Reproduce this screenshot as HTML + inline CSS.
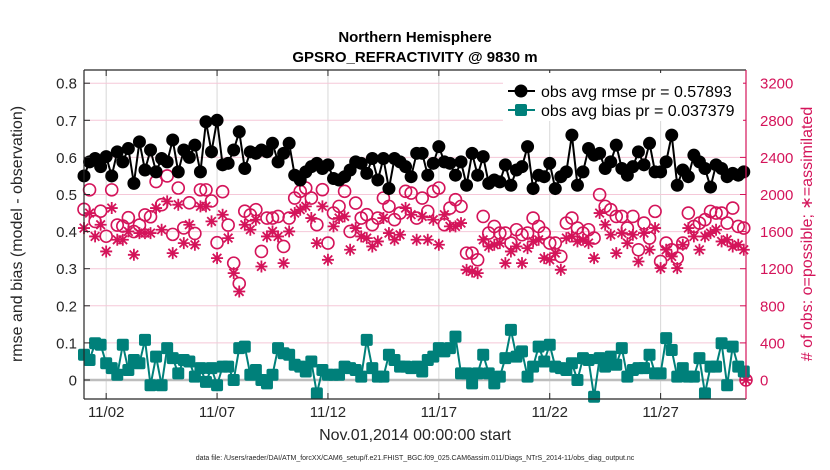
<!DOCTYPE html>
<html><head><meta charset="utf-8">
<style>
html,body{margin:0;padding:0;background:#fff;}
svg{display:block;font-family:"Liberation Sans",Arial,sans-serif;}
</style></head>
<body>
<svg id="chart" width="830" height="470" viewBox="0 0 830 470" xmlns="http://www.w3.org/2000/svg">
<g id="grid"></g>
<g id="zero"></g>
<g id="marks"></g>
<g id="axes"></g>
<text x="415" y="42" text-anchor="middle" font-size="15" font-weight="bold">Northern Hemisphere</text>
<text x="415" y="62" text-anchor="middle" font-size="15" font-weight="bold">GPSRO_REFRACTIVITY @ 9830 m</text>
<text transform="translate(22,234) rotate(-90)" text-anchor="middle" font-size="16" fill="#262626">rmse and bias (model - observation)</text>
<text transform="translate(812,234) rotate(-90)" text-anchor="middle" font-size="16" fill="#d4145a"># of obs: o=possible; ∗=assimilated</text>
<text x="415" y="440" text-anchor="middle" font-size="16" fill="#262626">Nov.01,2014 00:00:00 start</text>
<text x="415" y="460" text-anchor="middle" font-size="7" fill="#262626">data file: /Users/raeder/DAI/ATM_forcXX/CAM6_setup/f.e21.FHIST_BGC.f09_025.CAM6assim.011/Diags_NTrS_2014-11/obs_diag_output.nc</text>
<g id="legend">
  <rect x="503" y="73" width="240" height="48" fill="#fff"/>
  <line x1="508" y1="91" x2="535" y2="91" stroke="#000" stroke-width="2"/>
  <circle cx="521" cy="91" r="6.5" fill="#000"/>
  <text x="541" y="97" font-size="16" fill="#000">obs avg rmse pr = 0.57893</text>
  <line x1="508" y1="110" x2="535" y2="110" stroke="#00807a" stroke-width="2"/>
  <rect x="515" y="104" width="12" height="12" rx="2" fill="#00807a"/>
  <text x="541" y="116" font-size="16" fill="#000">obs avg bias pr = 0.037379</text>
</g>
</svg>
<script>
const rmse = [0.55,0.588,0.597,0.575,0.602,0.55,0.615,0.588,0.624,0.53,0.642,0.566,0.62,0.561,0.597,0.588,0.647,0.561,0.62,0.6,0.633,0.561,0.696,0.615,0.70,0.58,0.584,0.62,0.669,0.57,0.615,
0.611,0.62,0.615,0.638,0.588,0.611,0.638,0.552,0.539,0.561,0.575,0.584,0.57,0.58,0.543,0.539,0.548,0.566,0.588,0.584,0.557,0.597,0.539,0.597,0.516,0.597,0.588,0.575,0.548,0.611,
0.611,0.552,0.584,0.629,0.588,0.584,0.552,0.588,0.525,0.611,0.552,0.602,0.53,0.539,0.534,0.58,0.525,0.566,0.575,0.629,0.516,0.552,0.548,0.584,0.516,0.548,0.561,0.66,0.525,0.561,
0.624,0.606,0.611,0.57,0.588,0.633,0.57,0.552,0.575,0.615,0.58,0.638,0.561,0.561,0.588,0.66,0.525,0.566,0.548,0.606,0.588,0.57,0.52,0.58,0.57,0.548,0.557,0.552,0.561];
const bias = [0.068,0.054,0.099,0.095,0.045,0.032,0.014,0.095,0.027,0.054,0.045,0.108,-0.014,0.063,-0.014,0.086,0.059,0.018,0.054,0.05,0.009,0.032,-0.005,0.032,-0.014,0.036,0.036,0.0,0.086,0.09,0.014,
0.027,0.0,-0.009,0.014,0.086,0.072,0.068,0.041,0.036,0.023,0.05,-0.036,0.027,0.014,0.014,0.014,0.036,0.032,0.027,0.009,0.108,0.032,0.009,0.009,0.068,0.054,0.036,0.036,0.032,0.036,
0.023,0.054,0.063,0.086,0.077,0.086,0.117,0.018,0.018,-0.009,0.018,0.068,0.018,-0.009,0.009,0.059,0.135,0.063,0.077,0.009,0.036,0.09,0.05,0.095,0.036,0.032,0.027,0.045,0.0,0.059,
0.054,-0.045,0.059,0.036,0.063,0.041,0.086,0.009,0.027,0.032,0.032,0.068,0.018,0.018,0.113,0.081,0.009,0.032,0.009,0.009,0.059,-0.036,0.036,0.036,0.099,-0.014,0.09,0.036,0.023];
const nPossible = [1840,2050,1710,1820,1550,2050,1670,1660,1750,1600,1670,1780,1760,2140,1890,2200,1570,2070,1640,1910,1580,2050,2050,1930,1480,2030,1670,1260,1040,1820,1780,
1836,1386,1746,1746,1764,1440,1746,1962,2034,2070,1962,1674,2052,1476,1800,1872,2034,1602,1908,1746,1782,1674,1746,1962,1872,1728,1800,2034,2016,1746,
1962,1818,2034,2070,1674,1854,1944,1872,1368,1368,1296,1764,1584,1656,1584,1584,1476,1620,1566,1584,1746,1656,1584,1476,1476,1332,1692,1746,1638,1584,
1620,1530,1998,1872,1836,1764,1764,1638,1764,1404,1692,1530,1818,1278,1476,1404,1314,1476,1800,1656,1692,1728,1818,1800,1800,1692,1854,1656,1638,0];
const nAssim = [1638,1800,1548,1674,1386,1854,1512,1512,1602,1350,1584,1584,1584,1854,1620,1926,1368,1890,1476,1674,1458,1872,1872,1710,1314,1782,1530,1152,954,1674,1620,
1728,1224,1548,1602,1548,1260,1602,1800,1836,1872,1746,1476,1872,1296,1656,1746,1764,1404,1638,1548,1530,1440,1494,1746,1584,1512,1566,1854,1782,1512,
1764,1512,1728,1458,1782,1656,1656,1692,1188,1170,1152,1512,1440,1458,1476,1260,1386,1440,1260,1422,1494,1512,1314,1296,1368,1188,1530,1548,1494,1512,
1476,1314,1800,1674,1566,1368,1584,1476,1566,1278,1584,1404,1638,1206,1404,1332,1206,1458,1638,1548,1404,1548,1584,1620,1494,1512,1440,1458,1404,0];
const leftTicks = [0,0.1,0.2,0.3,0.4,0.5,0.6,0.7,0.8];
const leftTickLabels = ["0","0.1","0.2","0.3","0.4","0.5","0.6","0.7","0.8"];
const rightTicks = [0,400,800,1200,1600,2000,2400,2800,3200];
const xTickDays = [1,6,11,16,21,26];
const xTickLabels = ["11/02","11/07","11/12","11/17","11/22","11/27"];
const stepDays = 0.25;
const xMaxDay = 29.85;

const L=84,R=746,T=70,B=399;
const PINK="#d4145a", TEAL="#00807a";
const NS="http://www.w3.org/2000/svg";
function x(d){return L+(d/xMaxDay)*(R-L);}
function yL(v){return 380 - v*371;}
function yR(c){return yL(c/4000);}
function mk(tag,attrs,parent){const e=document.createElementNS(NS,tag);for(const k in attrs)e.setAttribute(k,attrs[k]);parent.appendChild(e);return e;}
const grid=document.getElementById('grid'),axes=document.getElementById('axes'),marks=document.getElementById('marks'),zero=document.getElementById('zero');
const bg=mk('rect',{x:L,y:T,width:R-L,height:B-T,fill:'#fff'},grid);


xTickDays.forEach((d,i)=>{
  const g=mk('line',{x1:x(d),x2:x(d),y1:T,y2:B,stroke:'#d8d8d8','stroke-width':1},grid);
  
  
  const t=mk('text',{x:x(d),y:417,'text-anchor':'middle','font-size':15,fill:'#262626'},axes);
  t.textContent=xTickLabels[i];
  
  
  mk('line',{x1:x(d),x2:x(d),y1:B,y2:B-6,stroke:'#262626'},axes);
  mk('line',{x1:x(d),x2:x(d),y1:T,y2:T+6,stroke:'#262626'},axes);
});
rightTicks.forEach(c=>{
  const g=mk('line',{x1:L,x2:R,y1:yR(c),y2:yR(c),stroke:'#f5c8d8','stroke-width':1},grid);
  
  
  const t=mk('text',{x:760,y:yR(c)+5.5,'font-size':15,fill:PINK},axes);
  t.textContent=String(c);
  
  
  mk('line',{x1:R,x2:R-6,y1:yR(c),y2:yR(c),stroke:PINK},axes);
});
leftTicks.forEach((v,i)=>{
  const t=mk('text',{x:77,y:yL(v)+5.5,'text-anchor':'end','font-size':15,fill:'#262626'},axes);
  t.textContent=leftTickLabels[i];
  
  
  mk('line',{x1:L,x2:L+6,y1:yL(v),y2:yL(v),stroke:'#262626'},axes);
});
const zl=mk('line',{x1:L,x2:R,y1:yL(0),y2:yL(0),stroke:'#bdbdbd','stroke-width':2.5},zero);


const frame=[['M',L,T,'L',R,T],['M',L,T,'L',L,B],['M',L,B,'L',R,B]];
frame.forEach(f=>mk('path',{d:f.join(' '),stroke:'#262626','stroke-width':1.2,fill:'none'},axes));
mk('line',{x1:R,x2:R,y1:T,y2:B,stroke:PINK,'stroke-width':1.2},axes);

function day(i){return i<nPossible.length-1||i<rmse.length?Math.min(i*stepDays,xMaxDay):xMaxDay;}
// pink possible circles
nPossible.forEach((c,i)=>{
  const d=i>=rmse.length?xMaxDay:i*stepDays;
  const e=mk('circle',{cx:x(d),cy:yR(c),r:6,fill:'none',stroke:PINK,'stroke-width':1.6},marks);
  
  
});
nAssim.forEach((c,i)=>{
  const d=i>=rmse.length?xMaxDay:i*stepDays;
  const cx=x(d),cy=yR(c),s=6;
  const e=mk('path',{d:`M${cx-s} ${cy}H${cx+s}M${cx} ${cy-s}V${cy+s}M${cx-4.3} ${cy-4.3}L${cx+4.3} ${cy+4.3}M${cx-4.3} ${cy+4.3}L${cx+4.3} ${cy-4.3}`,stroke:PINK,'stroke-width':1.8,fill:'none'},marks);
  
  
});
// rmse
const rl=mk('polyline',{points:rmse.map((v,i)=>x(i*stepDays)+','+yL(v)).join(' '),fill:'none',stroke:'#000','stroke-width':2},marks);


rmse.forEach((v,i)=>{
  const e=mk('circle',{cx:x(i*stepDays),cy:yL(v),r:6.5,fill:'#000'},marks);
  
  
});
// bias
const bl=mk('polyline',{points:bias.map((v,i)=>x(i*stepDays)+','+yL(v)).join(' '),fill:'none',stroke:TEAL,'stroke-width':2},marks);


bias.forEach((v,i)=>{
  const e=mk('rect',{x:x(i*stepDays)-6,y:yL(v)-6,width:12,height:12,rx:2,fill:TEAL},marks);
  
  
});
</script>
</body></html>
